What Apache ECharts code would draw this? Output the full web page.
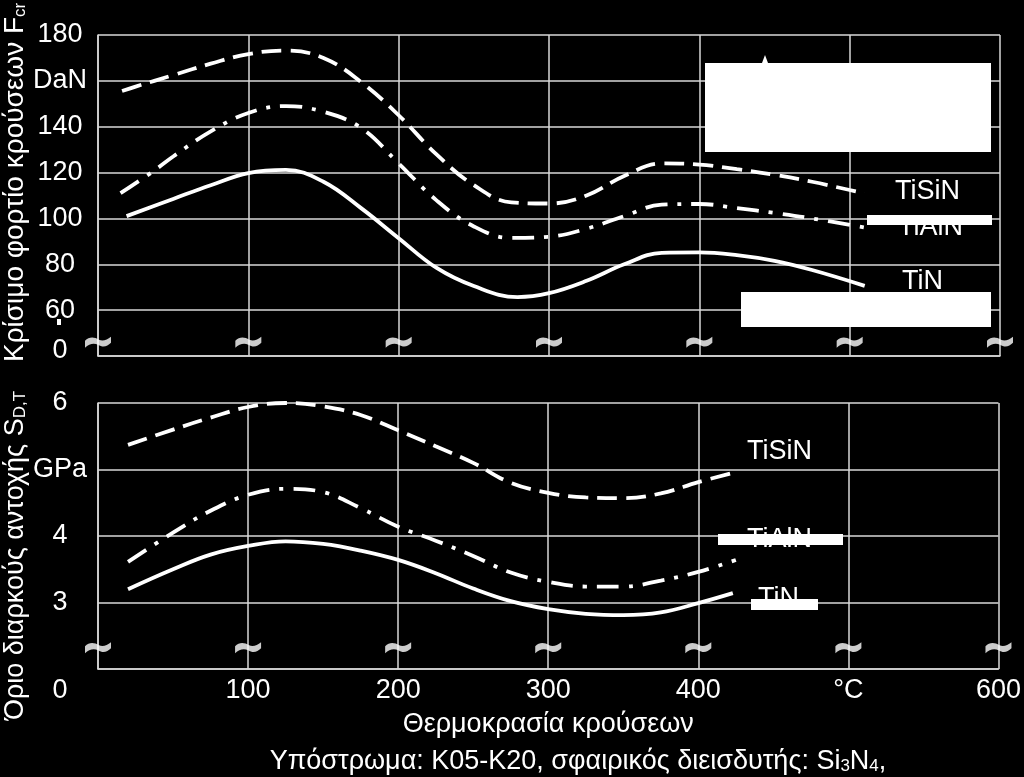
<!DOCTYPE html>
<html>
<head>
<meta charset="utf-8">
<script src="https://cdn.jsdelivr.net/npm/echarts@6/dist/echarts.min.js"></script>
<style>
html,body{margin:0;padding:0;background:#000;}
#chart{width:1024px;height:777px;}
</style>
</head>
<body>
<div id="chart"></div>
<script>
// ---------- DATA ----------
var seriesNames = ['TiSiN', 'TiAlN', 'TiN'];
var xTickLabels = ['0', '100', '200', '300', '400', '°C', '600'];
var yTopTickLabels = ['0', '60', '80', '100', '120', '140', 'DaN', '180'];   // values 40..180
var yBottomTickLabels = ['', '3', '4', 'GPa', '6'];                           // values 2..6

// Top panel: critical impact load F_cr (DaN) vs temperature (°C)
var topTiSiN = [[16,155.6],[25,157.5],[50,162.5],[75,167.5],[100,171.7],[125,173.2],[150,170],[175,159.5],[200,145],[225,128],[250,114.5],[275,107],[300,106.5],[325,110],[350,118.5],[375,124],[400,123.5],[425,121.5],[450,119],[475,116],[500,112.4],[510,111]];
var topTiAlN = [[15,111],[37,120.7],[50,127],[75,138],[100,146],[125,149],[150,146.5],[175,139.5],[200,124],[225,108],[250,96.5],[275,91.5],[300,92],[325,95.5],[350,101],[375,106],[400,106.3],[425,104.5],[450,102.4],[475,100],[512,95.8]];
var topTiN = [[19,101],[50,108.5],[75,114.5],[100,119.8],[125,121.2],[150,116],[175,104.5],[200,91.4],[225,78.5],[250,70.5],[279,65.7],[300,67.4],[325,72.8],[350,80],[375,85],[400,85.2],[425,84],[450,81.5],[475,77.5],[510,70.6]];

// Bottom panel: fatigue endurance limit S_D,T (GPa) vs temperature (°C)
var botTiSiN = [[20,5.37],[50,5.6],[75,5.78],[100,5.94],[125,6.0],[150,5.95],[175,5.82],[200,5.59],[225,5.35],[250,5.1],[275,4.8],[300,4.65],[325,4.58],[350,4.57],[375,4.64],[400,4.81],[425,4.96]];
var botTiAlN = [[20,3.61],[50,4.05],[75,4.38],[100,4.62],[125,4.71],[150,4.66],[175,4.42],[200,4.14],[225,3.93],[250,3.7],[275,3.45],[300,3.31],[325,3.24],[350,3.24],[375,3.33],[400,3.46],[425,3.64]];
var botTiN = [[20,3.2],[50,3.5],[75,3.72],[100,3.85],[125,3.92],[150,3.88],[175,3.78],[200,3.64],[225,3.44],[250,3.21],[275,3.02],[300,2.9],[325,2.83],[350,2.81],[375,2.85],[400,2.99],[423,3.14]];

// axis-break markers
var breakXs = [0, 100, 200, 300, 400, 500, 600];
var topBreakY = 46;
var botBreakY = 2.32;

var xAxisTitle = 'Θερμοκρασία κρούσεων';
var subTitleParts = ['Υπόστρωμα: K05-K20, σφαιρικός διεισδυτής: Si', '3', 'N', '4', ','];
var yTopTitle = ['Κρίσιμο φορτίο κρούσεων F', 'cr'];
var yBotTitle = ['Όριο διαρκούς αντοχής S', 'D,T'];

// ---------- STYLE ----------
var FONT = 'Liberation Sans, Arial, sans-serif';
var GRIDC = '#d8d8d8';
var dashed = [20, 9];
var dashDot = [22, 10, 4, 10];
var breakPath = 'path://M0,4 C4,0 9,0 14,3 C18,5 22,3 26,0 L26,6 C22,10 18,11 13,8 C9,6 4,7 0,11 Z';

var chart = echarts.init(document.getElementById('chart'), null, {renderer: 'canvas'});

function lineSeries(name, data, xi, type) {
  return {
    name: name, type: 'line', xAxisIndex: xi, yAxisIndex: xi,
    data: data, smooth: 0.4, showSymbol: false, symbol: 'none', silent: true,
    lineStyle: {color: '#fff', width: 3.8, type: type, cap: 'butt'}
  };
}
function breakSeries(xi, yv) {
  return {
    type: 'scatter', xAxisIndex: xi, yAxisIndex: xi, silent: true, clip: false,
    symbol: breakPath, symbolSize: [26, 11], z: 5,
    itemStyle: {color: '#fff'},
    data: breakXs.map(function (x) { return [x, yv]; })
  };
}

var xAxisBase = {
  type: 'value', min: 0, max: 600, interval: 100,
  axisLine: {show: true, lineStyle: {color: GRIDC, width: 1.5}},
  axisTick: {show: false},
  splitLine: {show: true, lineStyle: {color: GRIDC, width: 1.5}}
};

var option = {
  backgroundColor: '#000',
  animation: false,
  grid: [
    {left: 98, right: 24, top: 35, height: 321, containLabel: false},
    {left: 98, right: 24, top: 403, height: 266, containLabel: false}
  ],
  xAxis: [
    Object.assign({}, xAxisBase, {gridIndex: 0, axisLabel: {show: false}}),
    Object.assign({}, xAxisBase, {
      gridIndex: 1,
      axisLabel: {
        show: true, color: '#fff', fontSize: 27, fontFamily: FONT, margin: 8,
        formatter: function (v) {
          var s = xTickLabels[Math.round(v / 100)];
          return v === 0 ? '{z|' + s + '}' : s;
        },
        rich: {z: {fontSize: 27, fontFamily: FONT, color: '#fff', padding: [0, 76, 0, 0]}}
      },
      name: xAxisTitle, nameLocation: 'middle', nameGap: 42,
      nameTextStyle: {color: '#fff', fontSize: 27, fontFamily: FONT}
    })
  ],
  yAxis: [
    {
      type: 'value', gridIndex: 0, min: 40, max: 180, interval: 20,
      axisLine: {show: true, lineStyle: {color: GRIDC, width: 1.5}},
      axisTick: {show: false},
      splitLine: {show: true, lineStyle: {color: GRIDC, width: 1.5}},
      axisLabel: {
        color: '#fff', fontSize: 27, fontFamily: FONT, align: 'center', margin: 38,
        formatter: function (v) {
          var s = yTopTickLabels[Math.round((v - 40) / 20)];
          return v === 40 ? '{z|' + s + '}' : s;
        },
        rich: {z: {fontSize: 27, fontFamily: FONT, color: '#fff', padding: [0, 0, 10, 0]}}
      }
    },
    {
      type: 'value', gridIndex: 1, min: 2, max: 6, interval: 1,
      axisLine: {show: true, lineStyle: {color: GRIDC, width: 1.5}},
      axisTick: {show: false},
      splitLine: {show: true, lineStyle: {color: GRIDC, width: 1.5}},
      axisLabel: {
        color: '#fff', fontSize: 27, fontFamily: FONT, align: 'center', margin: 38,
        formatter: function (v) { return yBottomTickLabels[Math.round(v - 2)]; }
      }
    }
  ],
  series: [
    lineSeries(seriesNames[0], topTiSiN, 0, dashed),
    lineSeries(seriesNames[1], topTiAlN, 0, dashDot),
    lineSeries(seriesNames[2], topTiN, 0, 'solid'),
    lineSeries(seriesNames[0], botTiSiN, 1, dashed),
    lineSeries(seriesNames[1], botTiAlN, 1, dashDot),
    lineSeries(seriesNames[2], botTiN, 1, 'solid'),
    breakSeries(0, topBreakY),
    breakSeries(1, botBreakY)
  ],
  graphic: [
    // rotated y titles
    {type: 'text', x: 29, y: 362, rotation: Math.PI / 2, silent: true, z: 10,
     style: {text: '{m|' + yTopTitle[0] + '}{s|' + yTopTitle[1] + '}', align: 'left', verticalAlign: 'bottom',
       rich: {m: {fontSize: 28, fontFamily: FONT, fill: '#fff', color: '#fff', verticalAlign: 'bottom', lineHeight: 30},
              s: {fontSize: 17, fontFamily: FONT, fill: '#fff', color: '#fff', verticalAlign: 'bottom', lineHeight: 24}}}},
    {type: 'text', x: 29, y: 720, rotation: Math.PI / 2, silent: true, z: 10,
     style: {text: '{m|' + yBotTitle[0] + '}{s|' + yBotTitle[1] + '}', align: 'left', verticalAlign: 'bottom',
       rich: {m: {fontSize: 27, fontFamily: FONT, fill: '#fff', color: '#fff', verticalAlign: 'bottom', lineHeight: 30},
              s: {fontSize: 17, fontFamily: FONT, fill: '#fff', color: '#fff', verticalAlign: 'bottom', lineHeight: 24}}}},
    // subtitle
    {type: 'text', x: 578, y: 760, silent: true, z: 10,
     style: {text: '{m|' + subTitleParts[0] + '}{s|' + subTitleParts[1] + '}{m|' + subTitleParts[2] + '}{s|' + subTitleParts[3] + '}{m|' + subTitleParts[4] + '}',
       align: 'center', verticalAlign: 'middle',
       rich: {m: {fontSize: 27, fontFamily: FONT, fill: '#fff', color: '#fff', verticalAlign: 'bottom', lineHeight: 30},
              s: {fontSize: 17, fontFamily: FONT, fill: '#fff', color: '#fff', verticalAlign: 'bottom', lineHeight: 24}}}},
    // series labels top
    {type: 'text', x: 895, y: 192, silent: true, z: 10, style: {text: seriesNames[0], fill: '#fff', font: '27px ' + FONT, verticalAlign: 'middle'}},
    {type: 'text', x: 898, y: 228, silent: true, z: 10, style: {text: seriesNames[1], fill: '#fff', font: '27px ' + FONT, verticalAlign: 'middle'}},
    {type: 'text', x: 902, y: 282, silent: true, z: 10, style: {text: seriesNames[2], fill: '#fff', font: '27px ' + FONT, verticalAlign: 'middle'}},
    // series labels bottom
    {type: 'text', x: 747, y: 452, silent: true, z: 10, style: {text: seriesNames[0], fill: '#fff', font: '27px ' + FONT, verticalAlign: 'middle'}},
    {type: 'text', x: 747, y: 540, silent: true, z: 10, style: {text: seriesNames[1], fill: '#fff', font: '27px ' + FONT, verticalAlign: 'middle'}},
    {type: 'text', x: 758, y: 599, silent: true, z: 10, style: {text: seriesNames[2], fill: '#fff', font: '27px ' + FONT, verticalAlign: 'middle'}},
    // white cover boxes
    {type: 'rect', silent: true, z: 20, shape: {x: 705, y: 63, width: 286, height: 89}, style: {fill: '#fff'}},
    {type: 'rect', silent: true, z: 20, shape: {x: 741, y: 292, width: 250, height: 35}, style: {fill: '#fff'}},
    {type: 'rect', silent: true, z: 20, shape: {x: 867, y: 215, width: 125, height: 10}, style: {fill: '#fff'}},
    {type: 'rect', silent: true, z: 20, shape: {x: 718, y: 534, width: 125, height: 11}, style: {fill: '#fff'}},
    {type: 'rect', silent: true, z: 20, shape: {x: 751, y: 599, width: 67, height: 11}, style: {fill: '#fff'}},
    // tiny marks
    {type: 'rect', silent: true, z: 20, shape: {x: 57, y: 319, width: 4, height: 6}, style: {fill: '#fff'}},
    {type: 'polygon', silent: true, z: 20, shape: {points: [[762, 63], [765, 55], [768, 63]]}, style: {fill: '#fff'}}
  ]
};
chart.setOption(option);
</script>
</body>
</html>
